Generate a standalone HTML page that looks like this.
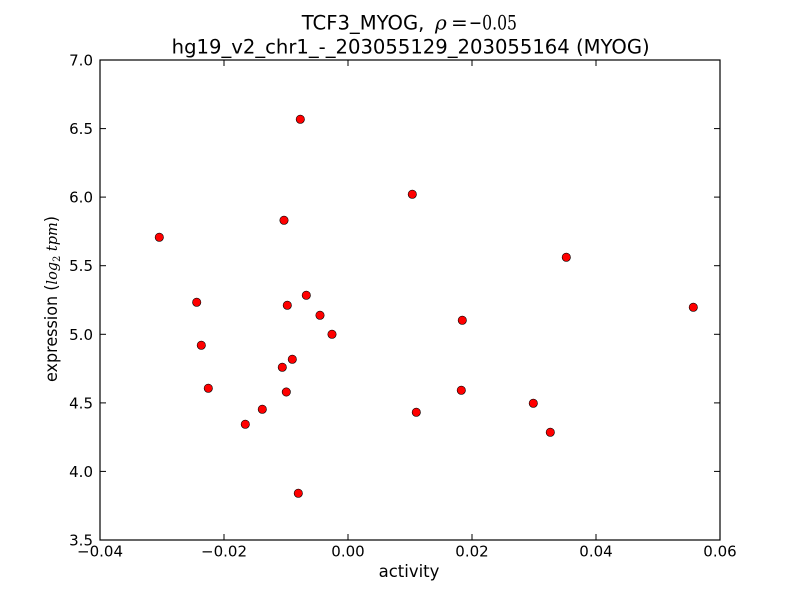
<!DOCTYPE html>
<html>
<head>
<meta charset="utf-8">
<style>
html,body{margin:0;padding:0;background:#fff;}
svg{display:block;}
text{font-family:"DejaVu Sans","Liberation Sans",sans-serif;fill:#000;}
.serif{font-family:"DejaVu Serif","Liberation Serif",serif;}
</style>
</head>
<body>
<svg width="800" height="600" viewBox="0 0 800 600" xmlns="http://www.w3.org/2000/svg">
<rect x="0" y="0" width="800" height="600" fill="#fff"/>
<!-- title -->
<text x="301.7" y="29.3" font-size="19.6">TCF3_MYOG,</text>
<text x="435" y="29.3" font-size="20" class="serif" font-style="italic">ρ</text>
<text x="451" y="29.3" font-size="20" class="serif">=</text>
<text x="469" y="29.3" font-size="20" class="serif" textLength="48" lengthAdjust="spacingAndGlyphs">−0.05</text>
<text x="171.7" y="53.3" font-size="19.6" textLength="478" lengthAdjust="spacingAndGlyphs">hg19_v2_chr1_-_203055129_203055164 (MYOG)</text>

<!-- axes frame -->
<rect x="100" y="60" width="620" height="480" fill="none" stroke="#000" stroke-width="1.2"/>

<!-- ticks -->
<g stroke="#000" stroke-width="1">
<line x1="224" y1="540" x2="224" y2="534"/><line x1="224" y1="60" x2="224" y2="66"/>
<line x1="348" y1="540" x2="348" y2="534"/><line x1="348" y1="60" x2="348" y2="66"/>
<line x1="472" y1="540" x2="472" y2="534"/><line x1="472" y1="60" x2="472" y2="66"/>
<line x1="596" y1="540" x2="596" y2="534"/><line x1="596" y1="60" x2="596" y2="66"/>
<line x1="100" y1="471.4" x2="106" y2="471.4"/><line x1="720" y1="471.4" x2="714" y2="471.4"/>
<line x1="100" y1="402.9" x2="106" y2="402.9"/><line x1="720" y1="402.9" x2="714" y2="402.9"/>
<line x1="100" y1="334.3" x2="106" y2="334.3"/><line x1="720" y1="334.3" x2="714" y2="334.3"/>
<line x1="100" y1="265.7" x2="106" y2="265.7"/><line x1="720" y1="265.7" x2="714" y2="265.7"/>
<line x1="100" y1="197.1" x2="106" y2="197.1"/><line x1="720" y1="197.1" x2="714" y2="197.1"/>
<line x1="100" y1="128.6" x2="106" y2="128.6"/><line x1="720" y1="128.6" x2="714" y2="128.6"/>
</g>

<!-- x tick labels -->
<g font-size="15" text-anchor="middle">
<text x="100" y="556.7">−0.04</text>
<text x="224" y="556.7">−0.02</text>
<text x="348" y="556.7">0.00</text>
<text x="472" y="556.7">0.02</text>
<text x="596" y="556.7">0.04</text>
<text x="720" y="556.7">0.06</text>
</g>
<!-- y tick labels -->
<g font-size="15" text-anchor="end">
<text x="93" y="545.5">3.5</text>
<text x="93" y="476.9">4.0</text>
<text x="93" y="408.4">4.5</text>
<text x="93" y="339.8">5.0</text>
<text x="93" y="271.2">5.5</text>
<text x="93" y="202.6">6.0</text>
<text x="93" y="134.1">6.5</text>
<text x="93" y="65.5">7.0</text>
</g>

<!-- axis labels -->
<text x="409" y="577" font-size="16.5" text-anchor="middle">activity</text>
<text transform="translate(57,299) rotate(-90)" font-size="16.5" text-anchor="middle" textLength="166" lengthAdjust="spacingAndGlyphs">expression (<tspan class="serif" font-style="italic" font-size="15">log</tspan><tspan class="serif" font-size="10" dy="3">2</tspan><tspan class="serif" font-style="italic" font-size="15" dy="-3"> tpm</tspan>)</text>

<!-- points -->
<g fill="#ff0000" stroke="#000" stroke-width="0.6">
<circle cx="159.3" cy="237.3" r="4.2"/>
<circle cx="284" cy="220.3" r="4.2"/>
<circle cx="196.7" cy="302.3" r="4.2"/>
<circle cx="287.3" cy="305.3" r="4.2"/>
<circle cx="306.3" cy="295.3" r="4.2"/>
<circle cx="320" cy="315.3" r="4.2"/>
<circle cx="332" cy="334.3" r="4.2"/>
<circle cx="201.3" cy="345.3" r="4.2"/>
<circle cx="292.3" cy="359.3" r="4.2"/>
<circle cx="282.3" cy="367.3" r="4.2"/>
<circle cx="208.3" cy="388.3" r="4.2"/>
<circle cx="286.3" cy="392" r="4.2"/>
<circle cx="262.3" cy="409.3" r="4.2"/>
<circle cx="245.3" cy="424.3" r="4.2"/>
<circle cx="300.3" cy="119.3" r="4.2"/>
<circle cx="298.3" cy="493.3" r="4.2"/>
<circle cx="412.3" cy="194.3" r="4.2"/>
<circle cx="566.3" cy="257.3" r="4.2"/>
<circle cx="693.3" cy="307.3" r="4.2"/>
<circle cx="462.3" cy="320.3" r="4.2"/>
<circle cx="461.3" cy="390.3" r="4.2"/>
<circle cx="416.3" cy="412.3" r="4.2"/>
<circle cx="533.3" cy="403.3" r="4.2"/>
<circle cx="550.3" cy="432.3" r="4.2"/>
</g>
</svg>
</body>
</html>
